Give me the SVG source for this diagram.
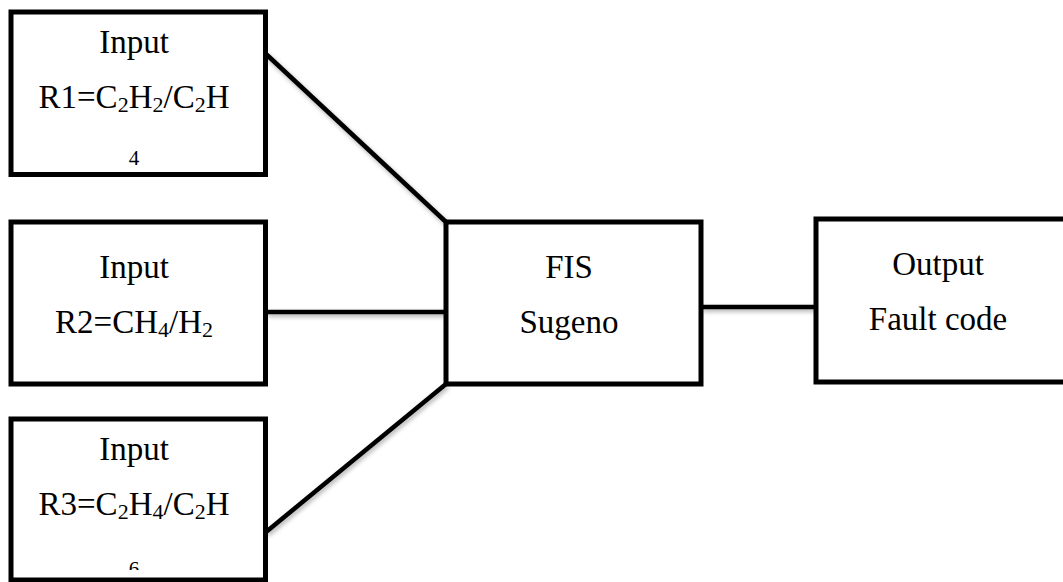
<svg xmlns="http://www.w3.org/2000/svg" width="1063" height="582" viewBox="0 0 1063 582">
<defs>
<style>
.box{fill:#fff;stroke:#000;stroke-width:5;stroke-linejoin:miter}
.t{font-family:"Liberation Serif","Times New Roman",serif;font-size:33px;fill:#000;text-anchor:middle}
.s{font-size:22px}
.c{stroke:#000;stroke-width:4.5;fill:none;stroke-linecap:butt}
.small{font-family:"Liberation Serif","Times New Roman",serif;font-size:21px;fill:#000;text-anchor:middle}
</style>
<filter id="sh" x="-20%" y="-20%" width="140%" height="140%">
<feDropShadow dx="1.5" dy="2.5" stdDeviation="2" flood-color="#000" flood-opacity="0.3"/>
</filter>
<clipPath id="clip6"><rect x="0" y="540" width="300" height="30"/></clipPath>
</defs>
<g id="connectors" filter="url(#sh)">
<line class="c" x1="266" y1="54" x2="446" y2="222"/>
<line class="c" x1="266" y1="312" x2="446" y2="312"/>
<line class="c" x1="266" y1="532" x2="446" y2="384"/>
<line class="c" x1="701" y1="307" x2="816" y2="307"/>
</g>
<g id="input1">
<rect class="box" x="11" y="12" width="254.5" height="162.5"/>
<text class="t" x="134" y="53">Input</text>
<text class="t" x="134" y="108">R1=C<tspan class="s" dy="4">2</tspan><tspan dy="-4">H</tspan><tspan class="s" dy="4">2</tspan><tspan dy="-4">/C</tspan><tspan class="s" dy="4">2</tspan><tspan dy="-4">H</tspan></text>
<text class="small" x="134" y="165">4</text>
</g>
<g id="input2">
<rect class="box" x="11" y="222" width="254.5" height="162"/>
<text class="t" x="134" y="278">Input</text>
<text class="t" x="134" y="333">R2=CH<tspan class="s" dy="4">4</tspan><tspan dy="-4">/H</tspan><tspan class="s" dy="4">2</tspan></text>
</g>
<g id="input3">
<rect class="box" x="11" y="419" width="254.5" height="161"/>
<text class="t" x="134" y="460">Input</text>
<text class="t" x="134" y="515">R3=C<tspan class="s" dy="4">2</tspan><tspan dy="-4">H</tspan><tspan class="s" dy="4">4</tspan><tspan dy="-4">/C</tspan><tspan class="s" dy="4">2</tspan><tspan dy="-4">H</tspan></text>
<text class="small" x="134" y="576" clip-path="url(#clip6)">6</text>
</g>
<g id="fis">
<rect class="box" x="446" y="222" width="255" height="162"/>
<text class="t" x="569" y="278">FIS</text>
<text class="t" x="569" y="333">Sugeno</text>
</g>
<g id="output">
<rect class="box" x="816" y="219" width="260" height="163"/>
<text class="t" x="938" y="275">Output</text>
<text class="t" x="938" y="330">Fault code</text>
</g>
</svg>
